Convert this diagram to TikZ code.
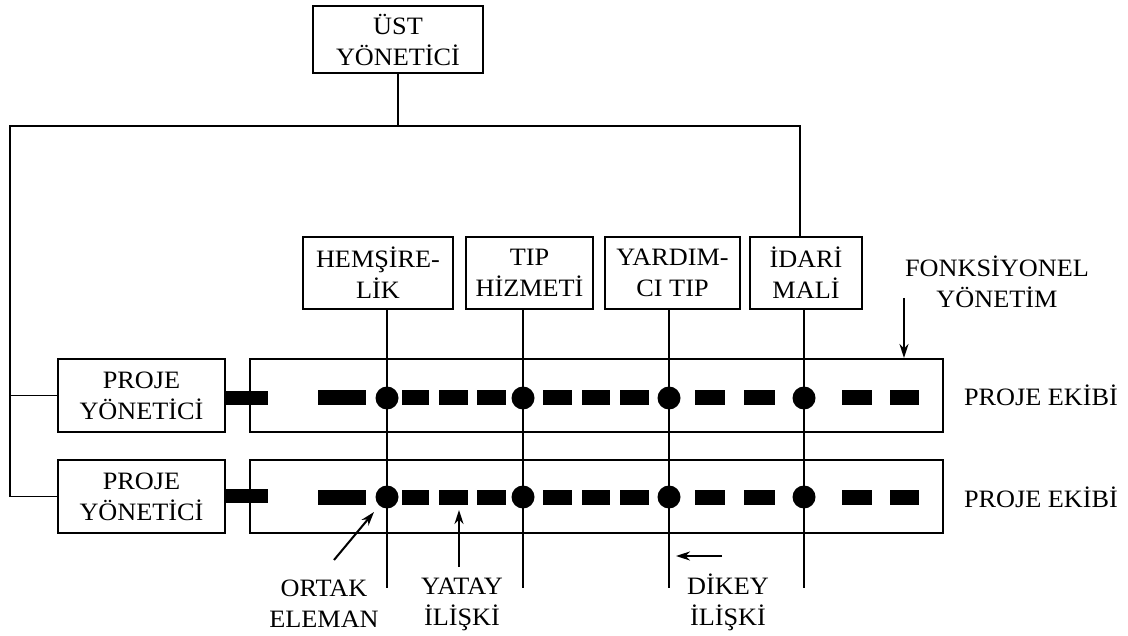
\documentclass[tikz,border=0pt]{standalone}
\usepackage{fontspec}
\setmainfont[FakeStretch=1.05]{Liberation Serif}
\usetikzlibrary{arrows.meta,calc}
\begin{document}
\begin{tikzpicture}[x=1pt,y=-1pt,
  every node/.style={font=\fontsize{25}{31}\selectfont, align=center, inner sep=0pt},
  box/.style={draw, line width=2.2pt, minimum height=72pt},
  teambox/.style={draw, line width=1.9pt, minimum width=693pt, minimum height=73pt},
  wire/.style={line width=1.9pt},
  bar/.style={line width=14pt},
  pointer/.style={line width=2pt, -{Stealth[length=14pt,width=9pt]}}]
\useasboundingbox (0,0) rectangle (1128,636);

% team rectangles
\node[teambox] (ek1) at (596.5,395.5) {};
\node[teambox] (ek2) at (596.5,496.5) {};

% boxes
\node[box, minimum width=170pt, minimum height=67pt] (ust) at (398,39.5) {ÜST\\YÖNETİCİ};
\node[box, minimum width=150pt] (hem) at (378,273) {HEMŞİRE-\\LİK};
\node[box, minimum width=127pt] (tip) at (529.5,273) {TIP\\HİZMETİ};
\node[box, minimum width=135pt] (yar) at (672.5,273) {YARDIM-\\CI TIP};
\node[box, minimum width=112pt] (ida) at (806,273) {İDARİ\\MALİ};
\node[box, minimum width=167pt, minimum height=73pt] (pm1) at (141.5,395.5) {PROJE\\YÖNETİCİ};
\node[box, minimum width=167pt, minimum height=73pt] (pm2) at (141.5,496.5) {PROJE\\YÖNETİCİ};

% labels
\node (fonk) at (997,282) {FONKSİYONEL\\YÖNETİM};
\node (pe1) at (1041,395) {PROJE EKİBİ};
\node (pe2) at (1041,497) {PROJE EKİBİ};
\node (ortak) at (324,604) {ORTAK\\ELEMAN};
\node (yatay) at (462,604) {YATAY\\İLİŞKİ};
\node (dikey) at (728,602) {DİKEY\\İLİŞKİ};

% top bus
\coordinate (busL) at (10,126);
\coordinate (busR) at (800,126);
\draw[wire] (ust.south) -- (ust.south |- busL);
\draw[wire] (ida.north -| busR) -- (busR) -- (busL) -- (busL |- pm2.west) -- (pm2.west);
\draw[wire] (busL |- pm1.west) -- (pm1.west);

% thick bars from project managers
\coordinate (bar1e) at (268,398);
\coordinate (bar2e) at (268,496);
\draw[bar] (bar1e -| pm1.east) -- (bar1e);
\draw[bar] (bar2e -| pm2.east) -- (bar2e);

% vertical functional lines
\coordinate (hemE) at (387,588);
\coordinate (tipE) at (523,588);
\coordinate (yarE) at (669,588);
\coordinate (idaE) at (804,588);
\draw[wire] (hemE |- hem.south) -- (hemE);
\draw[wire] (tipE |- tip.south) -- (tipE);
\draw[wire] (yarE |- yar.south) -- (yarE);
\draw[wire] (idaE |- ida.south) -- (idaE);

% dashes and joints
\foreach \y in {398,497} {
  \foreach \a/\b in {318/366,402/429,439/468,477/506,543/572,582/610,620/649,695/725,744/775,842/872,890/919} {
    \fill (\a,\y-7.5) rectangle (\b,\y+7.5);
  }
  \foreach \x in {387,523,669,804} {
    \fill (\x,\y) circle[radius=11.5pt];
  }
}

% pointers
\coordinate (fA) at (904,298);
\coordinate (fB) at (904,358);
\draw[pointer] (fA) -- (fB);
\coordinate (oA) at (334,560);
\coordinate (oB) at (374,512);
\draw[pointer] (oA) -- (oB);
\coordinate (yA) at (459,567);
\coordinate (yB) at (459,510);
\draw[pointer] (yA) -- (yB);
\coordinate (dA) at (722,556);
\coordinate (dB) at (676,556);
\draw[pointer] (dA) -- (dB);
\end{tikzpicture}
\end{document}
